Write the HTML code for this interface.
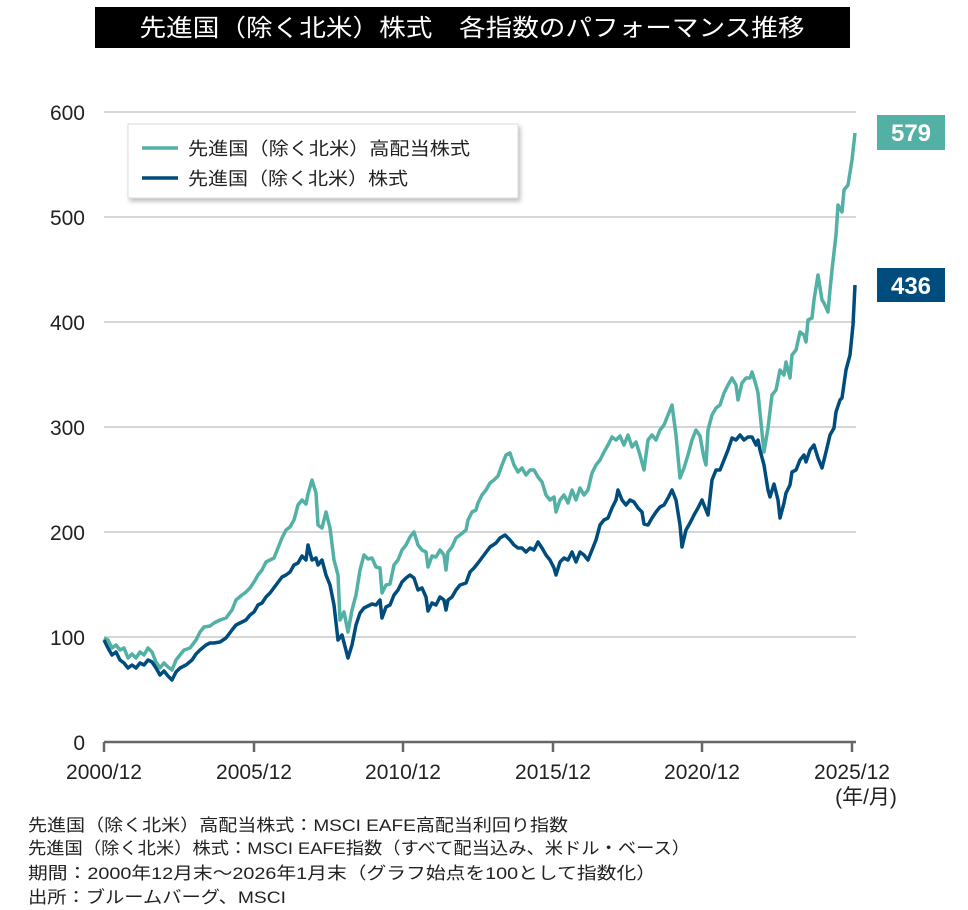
<!DOCTYPE html>
<html><head><meta charset="utf-8"><style>
body{margin:0;background:#fff;}
svg{display:block;font-family:"Liberation Sans","Noto Sans CJK JP",sans-serif;}
</style></head><body>
<svg width="968" height="910" viewBox="0 0 968 910" xmlns="http://www.w3.org/2000/svg">
<defs><filter id="sh" x="-5%" y="-10%" width="115%" height="130%"><feDropShadow dx="2" dy="3" stdDeviation="2" flood-color="#000" flood-opacity="0.25"/></filter></defs>
<rect x="95" y="7" width="755" height="41" fill="#000"/>
<text x="472" y="36" fill="#fff" font-size="24" text-anchor="middle" textLength="665" lengthAdjust="spacingAndGlyphs">先進国（除く北米）株式　各指数のパフォーマンス推移</text>
<g stroke="#c8c8c8" stroke-width="1.5">
<line x1="104" y1="112" x2="856" y2="112"/><line x1="104" y1="217" x2="856" y2="217"/>
<line x1="104" y1="322" x2="856" y2="322"/><line x1="104" y1="427" x2="856" y2="427"/>
<line x1="104" y1="532" x2="856" y2="532"/><line x1="104" y1="637" x2="856" y2="637"/>
</g>
<g stroke="#666" stroke-width="2.5" fill="none">
<line x1="104" y1="742" x2="856" y2="742"/>
<line x1="104" y1="742" x2="104" y2="752"/><line x1="254" y1="742" x2="254" y2="752"/>
<line x1="403" y1="742" x2="403" y2="752"/><line x1="553" y1="742" x2="553" y2="752"/>
<line x1="702" y1="742" x2="702" y2="752"/><line x1="852" y1="742" x2="852" y2="752"/>
</g>
<g font-size="21" fill="#222" text-anchor="end">
<text x="85" y="120">600</text><text x="85" y="225">500</text><text x="85" y="330">400</text>
<text x="85" y="435">300</text><text x="85" y="540">200</text><text x="85" y="645">100</text><text x="85" y="750">0</text>
</g>
<g font-size="21" fill="#222" text-anchor="middle">
<text x="104" y="779">2000/12</text><text x="254" y="779">2005/12</text><text x="403" y="779">2010/12</text>
<text x="553" y="779">2015/12</text><text x="702" y="779">2020/12</text><text x="852" y="779">2025/12</text>
<text x="866" y="804">(年/月)</text>
</g>
<polyline fill="none" stroke="#52b0a4" stroke-width="3.5" stroke-linejoin="round" points="104,638 108,640 112,648 116,645 120,650 124,648 128,658 132,654 136,658 140,652 144,655 148,648 152,652 156,662 160,668 164,663 168,667 172,670 176,660 180,655 184,650 190,648 196,640 200,632 204,627 210,626 214,623 220,620 226,618 232,610 236,600 242,595 246,592 250,588 254,582 258,575 262,570 266,562 270,560 274,558 278,548 282,538 286,530 290,527 294,520 298,505 302,500 306,504 308,494 312,480 316,493 318,525 322,528 326,512 330,528 334,560 338,575 340,620 344,612 348,632 352,610 356,595 360,570 364,555 368,559 372,558 376,567 380,568 382,593 386,585 390,584 394,565 398,560 402,550 406,545 410,537 414,532 418,545 422,550 426,552 428,567 432,556 436,557 440,550 444,555 446,570 448,552 452,547 456,538 460,535 466,530 468,520 472,512 476,510 478,503 482,495 486,490 490,483 494,480 498,476 502,465 506,455 510,453 514,465 518,472 522,468 526,475 530,470 534,470 538,477 542,482 546,495 550,500 554,497 556,512 560,500 564,495 568,503 572,490 576,500 580,488 584,495 588,490 592,473 596,465 600,460 604,452 608,445 612,437 616,440 620,436 624,445 628,435 632,447 636,442 640,455 644,470 648,440 652,435 656,440 660,430 664,425 668,415 672,405 676,435 680,478 684,468 688,455 692,440 696,430 700,436 704,458 706,465 708,430 712,415 716,408 720,405 724,393 728,385 732,378 736,385 738,400 742,383 746,378 750,378 752,372 756,385 758,393 760,413 764,452 768,428 772,395 776,390 780,370 784,375 786,362 790,378 792,355 796,350 800,332 804,335 806,342 808,320 812,318 814,300 818,275 822,300 824,303 828,312 830,290 832,270 836,235 838,205 842,212 844,190 848,185 852,160 855,133"/>
<polyline fill="none" stroke="#004c7c" stroke-width="3.5" stroke-linejoin="round" points="104,640 108,648 112,655 116,652 120,660 124,663 128,668 132,665 136,668 140,663 144,665 148,660 152,662 156,668 160,675 164,671 168,676 172,680 176,672 180,668 186,665 192,660 196,654 200,650 206,645 210,643 214,643 220,642 226,638 232,630 236,625 242,622 246,620 250,615 254,612 258,605 262,603 266,597 270,593 276,585 282,577 286,575 290,572 294,565 298,563 302,556 306,560 308,545 312,560 316,558 318,565 322,560 326,575 330,585 334,605 338,640 342,635 348,658 352,645 356,625 360,613 364,608 368,606 372,604 376,605 380,600 382,618 386,607 390,605 394,595 398,590 402,582 406,578 410,575 414,578 418,590 422,588 426,597 428,611 432,603 436,605 440,597 444,600 446,610 448,600 452,597 456,590 460,585 466,583 470,572 474,568 478,563 484,555 490,547 496,543 500,538 505,535 510,540 514,545 518,548 522,548 526,552 530,548 534,550 538,542 542,548 546,555 550,560 554,568 556,575 560,562 564,558 568,560 572,552 576,562 580,552 584,555 588,560 592,550 596,540 600,525 604,520 608,518 612,508 616,500 618,490 622,500 626,505 630,500 634,502 638,508 642,512 644,524 648,525 652,518 656,512 660,507 664,505 668,498 672,490 676,500 680,525 682,547 686,530 690,523 694,515 698,508 702,500 706,510 708,515 712,480 716,470 720,470 724,460 728,450 732,438 736,440 740,435 744,440 748,437 752,437 756,445 758,440 760,450 764,465 768,490 770,497 774,484 778,500 780,518 784,503 786,493 790,485 792,472 796,470 800,460 804,455 806,462 810,450 814,445 818,458 822,468 826,452 830,435 834,428 836,412 840,400 842,398 846,370 850,355 853,325 855,285"/>
<rect x="128" y="124" width="390" height="74" fill="#fff" stroke="#ddd" filter="url(#sh)"/>
<line x1="142" y1="148" x2="178" y2="148" stroke="#52b0a4" stroke-width="3.5"/>
<line x1="142" y1="178" x2="178" y2="178" stroke="#004c7c" stroke-width="3.5"/>
<text x="188" y="155" font-size="18" fill="#222" textLength="282" lengthAdjust="spacingAndGlyphs">先進国（除く北米）高配当株式</text>
<text x="188" y="185" font-size="18" fill="#222" textLength="220" lengthAdjust="spacingAndGlyphs">先進国（除く北米）株式</text>
<rect x="877" y="115" width="68" height="35" fill="#52b0a4"/>
<text x="911" y="141" font-size="24" font-weight="bold" fill="#fff" text-anchor="middle">579</text>
<rect x="877" y="268" width="68" height="34" fill="#004c7c"/>
<text x="911" y="294" font-size="24" font-weight="bold" fill="#fff" text-anchor="middle">436</text>
<g font-size="17" fill="#222">
<text x="28" y="831" textLength="540" lengthAdjust="spacingAndGlyphs">先進国（除く北米）高配当株式：MSCI EAFE高配当利回り指数</text>
<text x="28" y="854" textLength="662" lengthAdjust="spacingAndGlyphs">先進国（除く北米）株式：MSCI EAFE指数（すべて配当込み、米ドル・ベース）</text>
<text x="28" y="879" textLength="628" lengthAdjust="spacingAndGlyphs">期間：2000年12月末～2026年1月末（グラフ始点を100として指数化）</text>
<text x="28" y="903" textLength="258" lengthAdjust="spacingAndGlyphs">出所：ブルームバーグ、MSCI</text>
</g>
</svg>
</body></html>
